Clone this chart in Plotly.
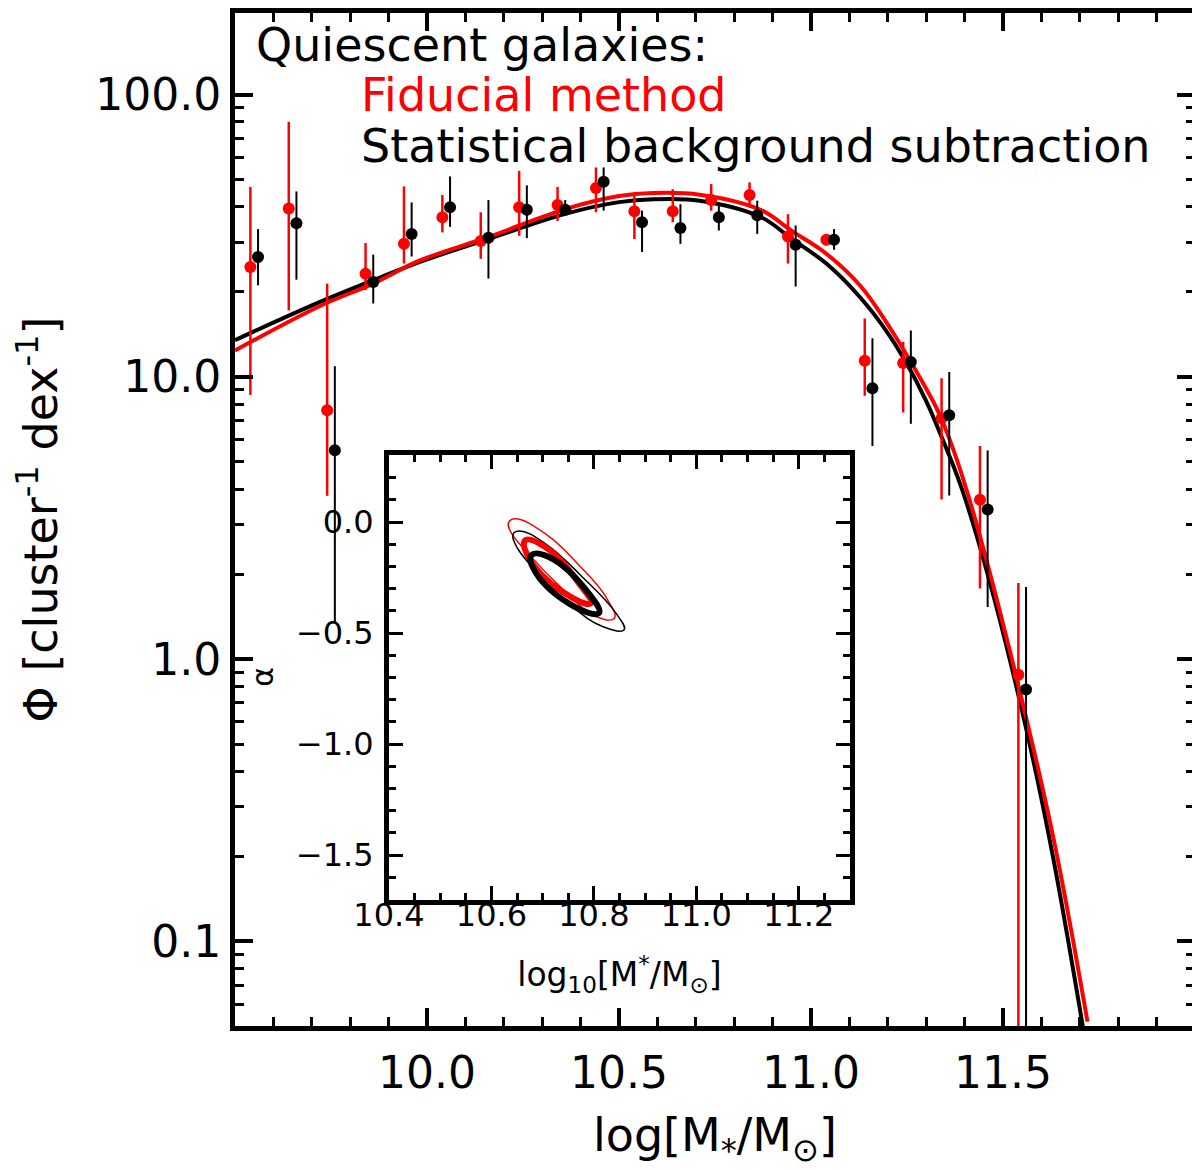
import plotly.graph_objects as go

# --- data ---
# binned points: red = fiducial method, black = statistical background subtraction
x_red = [9.54, 9.64, 9.74, 9.84, 9.94, 10.04, 10.14, 10.24, 10.34, 10.44, 10.54,
         10.64, 10.74, 10.84, 10.94, 11.04, 11.14, 11.24, 11.34, 11.44, 11.54]
y_red = [24.5, 39.5, 7.61, 23.2, 29.6, 36.8, 30.3, 39.9, 40.6, 46.7, 38.6,
         38.6, 42.3, 44.1, 31.4, 30.6, 11.4, 11.2, 7.14, 3.67, 0.88]
hi_red = [47.1, 80.1, 21.4, 29.8, 47.3, 44.1, 38.3, 53.7, 47.1, 55.2, 43.8,
          46.2, 48.2, 48.9, 37.7, 32.1, 16.1, 13.3, 9.89, 5.69, 1.86]
lo_red = [8.63, 17.2, 3.79, 20.3, 25.2, 32.5, 26.2, 31.6, 35.7, 38.3, 30.8,
          35.3, 38.8, 39.9, 25.2, 29.4, 8.57, 7.48, 3.68, 1.78, 0.01]

x_blk = [9.56, 9.66, 9.76, 9.86, 9.96, 10.06, 10.16, 10.26, 10.36, 10.46, 10.56,
         10.66, 10.76, 10.86, 10.96, 11.06, 11.16, 11.26, 11.36, 11.46, 11.56]
y_blk = [26.6, 35.0, 5.50, 21.7, 32.1, 39.9, 31.1, 39.1, 39.1, 49.1, 35.3,
         33.7, 36.8, 37.4, 29.4, 30.6, 9.12, 11.3, 7.31, 3.39, 0.78]
hi_blk = [33.4, 45.4, 10.9, 27.1, 41.5, 51.3, 42.3, 47.7, 42.3, 55.2, 38.8,
          40.9, 41.5, 42.1, 34.4, 33.4, 13.7, 14.6, 10.4, 5.49, 1.80]
lo_blk = [21.1, 22.1, 1.34, 18.2, 26.7, 34.0, 22.3, 31.0, 37.7, 38.8, 27.7,
          29.6, 33.0, 32.1, 20.9, 28.2, 5.69, 6.82, 3.80, 1.53, 0.01]

# best-fit curves
fit_x_blk = [9.50, 9.72, 9.86, 9.98, 10.16, 10.36, 10.50, 10.59, 10.71, 10.87, 10.95,
             11.04, 11.13, 11.20, 11.25, 11.30, 11.34, 11.39, 11.46, 11.56, 11.63, 11.71]
fit_y_blk = [13.5, 18.4, 22.0, 25.5, 30.8, 37.8, 41.6, 42.6, 42.1, 36.8, 30.8,
             25.2, 19.0, 14.3, 11.1, 8.2, 6.13, 4.12, 2.0, 0.57, 0.20, 0.048]
fit_x_red = [9.50, 9.72, 9.86, 9.98, 10.16, 10.36, 10.50, 10.59, 10.71, 10.87, 10.95,
             11.04, 11.13, 11.21, 11.27, 11.33, 11.37, 11.42, 11.52, 11.63, 11.72]
fit_y_red = [12.4, 17.8, 21.4, 25.8, 31.3, 39.3, 43.7, 44.8, 44.2, 39.0, 32.9,
             27.3, 20.9, 14.6, 10.7, 7.6, 5.56, 3.4, 1.04, 0.237, 0.052]

# inset confidence contours (log M*, alpha)
red_out_x = [10.634, 10.646, 10.705, 10.771, 10.823, 10.840, 10.804, 10.738, 10.672, 10.636, 10.634]
red_out_y = [0.000, 0.015, -0.052, -0.194, -0.336, -0.433, -0.425, -0.299, -0.142, -0.037, 0.000]
blk_out_x = [10.643, 10.656, 10.705, 10.777, 10.843, 10.859, 10.817, 10.751, 10.685, 10.646, 10.643]
blk_out_y = [-0.052, -0.040, -0.097, -0.246, -0.410, -0.485, -0.470, -0.366, -0.216, -0.097, -0.052]
red_in_x = [10.666, 10.705, 10.771, 10.794, 10.738, 10.672, 10.666]
red_in_y = [-0.082, -0.112, -0.276, -0.366, -0.313, -0.157, -0.082]
blk_in_x = [10.678, 10.712, 10.790, 10.810, 10.751, 10.682, 10.678]
blk_in_y = [-0.149, -0.157, -0.321, -0.410, -0.366, -0.209, -0.149]

inset_xticks = [10.4, 10.6, 10.8, 11.0, 11.2]
inset_xlabels = ["10.4", "10.6", "10.8", "11.0", "11.2"]

RED = "#ff0000"
BLK = "#000000"
FONT = "DejaVu Sans"


def errs(y, hi, lo):
    return [h - v for h, v in zip(hi, y)], [v - l for v, l in zip(y, lo)]


fig = go.Figure()

fig.add_trace(go.Scatter(x=fit_x_blk, y=fit_y_blk, mode="lines",
                         line=dict(color=BLK, width=4, shape="spline"), showlegend=False))
fig.add_trace(go.Scatter(x=fit_x_red, y=fit_y_red, mode="lines",
                         line=dict(color=RED, width=4, shape="spline"), showlegend=False))

for xs, ys, hi, lo, col, w in [(x_red, y_red, hi_red, lo_red, RED, 2.5),
                               (x_blk, y_blk, hi_blk, lo_blk, BLK, 2)]:
    up, dn = errs(ys, hi, lo)
    fig.add_trace(go.Scatter(
        x=xs, y=ys, mode="markers",
        marker=dict(color=col, size=12, line=dict(width=0)),
        error_y=dict(type="data", symmetric=False, array=up, arrayminus=dn,
                     color=col, thickness=w, width=0),
        showlegend=False))

# inset contours
for xs, ys, col, w in [(red_out_x, red_out_y, RED, 1.5), (blk_out_x, blk_out_y, BLK, 1.5),
                       (red_in_x, red_in_y, RED, 6), (blk_in_x, blk_in_y, BLK, 6)]:
    fig.add_trace(go.Scatter(x=xs, y=ys, mode="lines", xaxis="x2", yaxis="y2",
                             line=dict(color=col, width=w, shape="spline", smoothing=1.3),
                             showlegend=False))

# invisible copy so the label-only inset axis (x3) gets drawn
fig.add_trace(go.Scatter(x=red_in_x, y=red_in_y, mode="lines", xaxis="x3", yaxis="y2",
                         line=dict(width=0), opacity=0, hoverinfo="skip", showlegend=False))

axis_common = dict(showline=True, linecolor=BLK, linewidth=5, mirror="ticks",
                   ticks="inside", tickcolor=BLK, showgrid=False, zeroline=False)

log_minor = [v * m for v in (0.01, 0.1, 1, 10, 100) for m in range(2, 10)]

fig.update_layout(
    width=1200, height=1170,
    margin=dict(l=227, r=13, t=0, b=152),
    paper_bgcolor="white", plot_bgcolor="white",
    font=dict(family=FONT, color=BLK),
    xaxis=dict(**axis_common, range=[9.5, 12.0],
               tickvals=[10.0, 10.5, 11.0, 11.5], ticktext=["10.0", "10.5", "11.0", "11.5"],
               ticklen=18, tickwidth=4,
               minor=dict(dtick=0.1, tick0=9.5, ticklen=9, tickwidth=3, ticks="inside", tickcolor=BLK),
               tickfont=dict(size=44), ticklabelstandoff=4,
               title=dict(text="log[M<sub>*</sub>/M<sub>⊙</sub>]", font=dict(size=46), standoff=24)),
    yaxis=dict(**axis_common, type="log", range=[-1.2996, 2.2891],
               tickvals=[0.1, 1, 10, 100], ticktext=["0.1", "1.0", "10.0", "100.0"],
               ticklen=18, tickwidth=4,
               minor=dict(tickvals=log_minor, ticklen=9, tickwidth=3, ticks="inside", tickcolor=BLK),
               tickfont=dict(size=44), ticklabelstandoff=0,
               title=dict(text="Φ [cluster<sup>-1</sup> dex<sup>-1</sup>]", font=dict(size=46), standoff=40)),
    # inset frame and ticks
    xaxis2=dict(**axis_common, domain=[0.1604, 0.6406], anchor="y2", range=[10.4, 11.3],
                tickvals=inset_xticks, showticklabels=False,
                ticklen=14, tickwidth=3,
                minor=dict(dtick=0.05, tick0=10.4, ticklen=7, tickwidth=3, ticks="inside", tickcolor=BLK)),
    # inset tick labels + title, sitting a bit closer to the frame
    xaxis3=dict(domain=[0.1604, 0.6406], overlaying="x2", anchor="free", position=0.1316,
                range=[10.4, 11.3], showline=False, ticks="", showgrid=False, zeroline=False,
                tickvals=inset_xticks, ticktext=inset_xlabels,
                tickfont=dict(size=32), ticklabelstandoff=0,
                title=dict(text="log<sub>10</sub>[M<sup>*</sup>/M<sub>⊙</sub>]", font=dict(size=33), standoff=30)),
    yaxis2=dict(**axis_common, domain=[0.1248, 0.5632], anchor="x2", range=[-1.7, 0.3],
                tickvals=[0.0, -0.5, -1.0, -1.5], ticktext=["0.0", "−0.5", "−1.0", "−1.5"],
                ticklen=14, tickwidth=3,
                minor=dict(dtick=0.1, tick0=0, ticklen=7, tickwidth=3, ticks="inside", tickcolor=BLK),
                tickfont=dict(size=32), ticklabelstandoff=4),
    annotations=[
        dict(text="Quiescent galaxies:", x=0.0198, y=0.9686, xref="paper", yref="paper",
             xanchor="left", yanchor="middle", showarrow=False, font=dict(size=46, color=BLK)),
        dict(text="Fiducial method", x=0.1292, y=0.9194, xref="paper", yref="paper",
             xanchor="left", yanchor="middle", showarrow=False, font=dict(size=46, color=RED)),
        dict(text="Statistical background subtraction", x=0.1292, y=0.8684, xref="paper", yref="paper",
             xanchor="left", yanchor="middle", showarrow=False, font=dict(size=46, color=BLK)),
        dict(text="α", x=0.0292, y=0.3448, xref="paper", yref="paper", textangle=-90,
             xanchor="center", yanchor="middle", showarrow=False, font=dict(size=30, color=BLK)),
    ],
)

fig.write_html("out.html")
